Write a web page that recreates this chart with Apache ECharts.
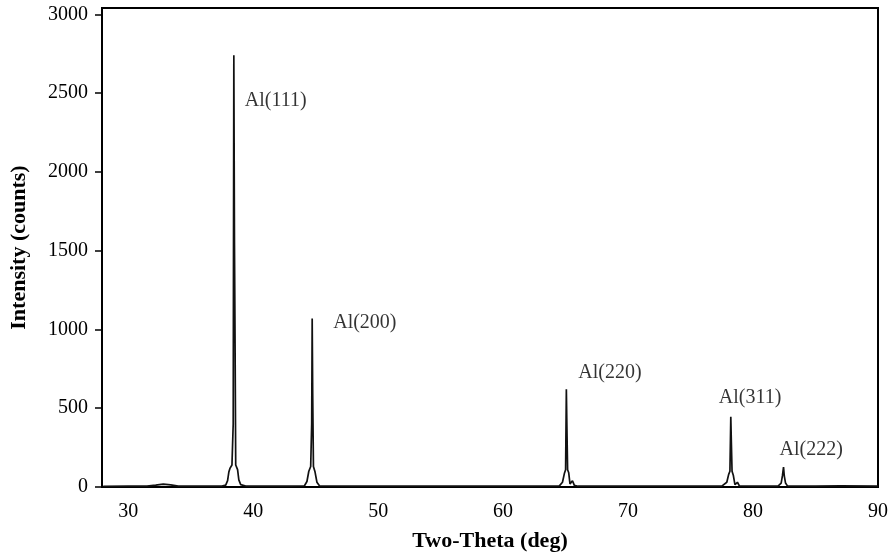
<!DOCTYPE html>
<html>
<head>
<meta charset="utf-8">
<script src="https://cdn.jsdelivr.net/npm/echarts@6/dist/echarts.min.js"></script>
<style>
  html, body { margin: 0; padding: 0; background: #fff; }
  #chart { width: 891px; height: 557px; }
</style>
</head>
<body>
<div id="chart"></div>
<script>
// XRD pattern of aluminium: diffraction angle (deg) and measured intensity (counts)
const twoTheta = [
  28.0, 30.0, 31.5, 32.2, 32.8, 33.4, 34.0, 35.0, 36.5, 37.5,
  37.8, 37.95, 38.05, 38.15, 38.3, 38.4, 38.45, 38.5, 38.55, 38.6,
  38.75, 38.85, 39.0, 39.4, 41.0, 43.0, 44.1, 44.3, 44.45, 44.6,
  44.68, 44.72, 44.76, 44.82, 44.95, 45.1, 45.3, 48.0, 55.0, 62.0,
  64.5, 64.75, 64.9, 65.0, 65.06, 65.1, 65.16, 65.25, 65.35, 65.55,
  65.7, 66.0, 72.0, 77.5, 77.9, 78.05, 78.15, 78.22, 78.26, 78.32,
  78.42, 78.55, 78.75, 78.9, 80.0, 82.0, 82.25, 82.35, 82.44, 82.5,
  82.6, 82.75, 85.0, 87.0, 90.0
];
const intensity = [
  4, 5, 6, 12, 18, 14, 6, 5, 5, 6,
  12, 40, 95, 120, 140, 400, 2740, 1560, 900, 140,
  110, 45, 15, 6, 5, 5, 8, 35, 100, 130,
  400, 1070, 600, 130, 95, 30, 8, 5, 5, 5,
  7, 30, 85, 110, 620, 400, 110, 90, 20, 40,
  10, 5, 5, 6, 30, 80, 100, 445, 300, 100,
  75, 15, 30, 8, 5, 6, 25, 70, 126, 70,
  25, 7, 6, 8, 6
];

// Reflection labels and the peak they belong to
const peakNames = ['Al(111)', 'Al(200)', 'Al(220)', 'Al(311)', 'Al(222)'];
const peakAngles = [38.45, 44.72, 65.06, 78.22, 82.44];
const peakHeights = [2740, 1070, 620, 445, 126];

// Tick labels
const xTicks = [30, 40, 50, 60, 70, 80, 90];

const serif = '"Liberation Serif", "DejaVu Serif", serif';

// Label placement (pixel offsets from each peak top)
const labelOffsets = [[11, 45], [21, 4], [12, -17], [-12, -19], [-4, -17]];

const chart = echarts.init(document.getElementById('chart'));

chart.setOption({
  animation: false,
  backgroundColor: '#ffffff',
  grid: {
    left: 97, right: 11, top: 8, bottom: 65,
    show: true, borderColor: '#000', borderWidth: 2
  },
  xAxis: {
    type: 'value',
    min: 27.9,
    max: 90,
    name: 'Two-Theta (deg)',
    nameLocation: 'middle',
    nameGap: 43,
    nameTextStyle: { fontFamily: serif, fontWeight: 'bold', fontSize: 22, color: '#000' },
    axisLine: { show: true, lineStyle: { color: '#000', width: 2 } },
    axisTick: { show: false },
    splitLine: { show: false },
    axisLabel: {
      customValues: xTicks,
      fontFamily: serif, fontSize: 20, color: '#000', margin: 15
    }
  },
  yAxis: {
    type: 'value',
    min: 0,
    max: 3040,
    interval: 500,
    name: 'Intensity (counts)',
    nameLocation: 'middle',
    nameGap: 72,
    nameTextStyle: { fontFamily: serif, fontWeight: 'bold', fontSize: 22, color: '#000' },
    axisLine: { show: true, lineStyle: { color: '#000', width: 2 } },
    axisTick: { show: true, inside: false, length: 7, lineStyle: { color: '#000', width: 1.5 } },
    splitLine: { show: false },
    axisLabel: {
      fontFamily: serif, fontSize: 20, color: '#000', margin: 14,
      showMaxLabel: false,
      formatter: v => String(v)
    }
  },
  series: [
    {
      type: 'line',
      data: twoTheta.map((t, i) => [t, intensity[i]]),
      showSymbol: false,
      symbol: 'none',
      smooth: false,
      lineStyle: { color: '#111', width: 1.7 },
      z: 3
    },
    {
      type: 'scatter',
      symbolSize: 0,
      silent: true,
      data: peakNames.map((n, i) => ({
        value: [peakAngles[i], peakHeights[i]],
        name: n,
        label: { offset: labelOffsets[i] }
      })),
      label: {
        show: true,
        position: 'inside',
        align: 'left',
        verticalAlign: 'middle',
        formatter: p => p.name,
        fontFamily: serif,
        fontSize: 20,
        color: '#000'
      },
      z: 4
    }
  ]
});
</script>
</body>
</html>
